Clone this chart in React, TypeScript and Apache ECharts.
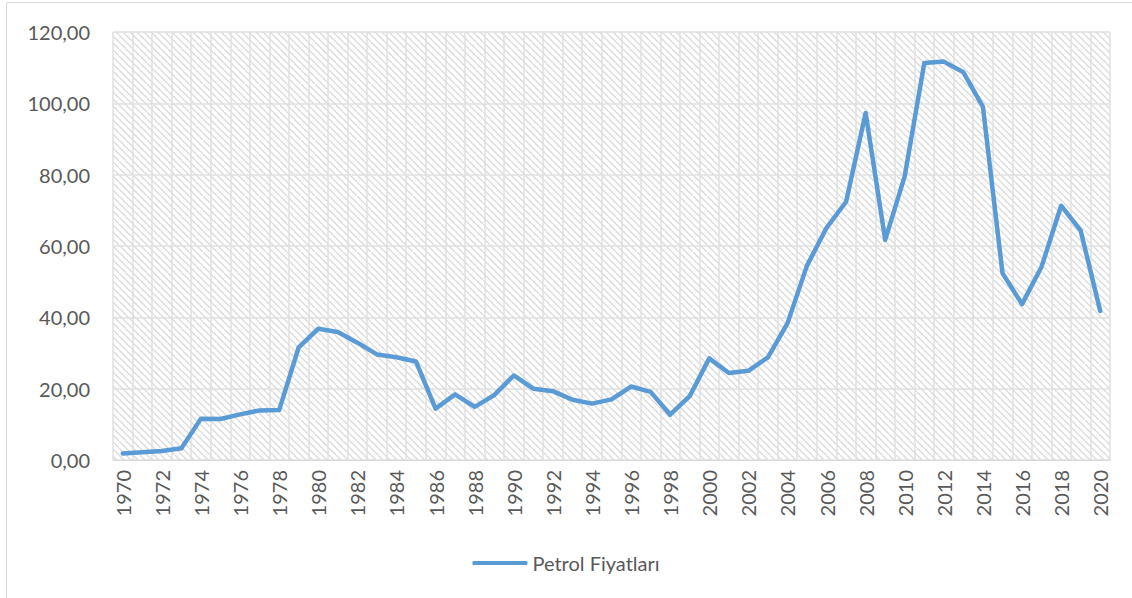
import React, { useEffect, useRef } from "react";
import * as echarts from "echarts";

const years: string[] = [
  "1970","1971","1972","1973","1974","1975","1976","1977","1978","1979",
  "1980","1981","1982","1983","1984","1985","1986","1987","1988","1989",
  "1990","1991","1992","1993","1994","1995","1996","1997","1998","1999",
  "2000","2001","2002","2003","2004","2005","2006","2007","2008","2009",
  "2010","2011","2012","2013","2014","2015","2016","2017","2018","2019","2020",
];

const petrolPrices: number[] = [
  1.8, 2.2, 2.5, 3.3, 11.6, 11.5, 12.8, 13.9, 14.0, 31.6,
  36.8, 35.9, 32.9, 29.6, 28.8, 27.6, 14.4, 18.4, 14.9, 18.2,
  23.7, 20.0, 19.3, 16.9, 15.8, 17.0, 20.6, 19.1, 12.7, 17.9,
  28.5, 24.4, 25.0, 28.8, 38.3, 54.5, 65.1, 72.4, 97.3, 61.7,
  79.6, 111.3, 111.7, 108.7, 99.0, 52.4, 43.7, 54.2, 71.3, 64.3, 41.8,
];

const seriesName = "Petrol Fiyatları";

function makePattern(): string {
  const c = document.createElement("canvas");
  const s = 7;
  c.width = s;
  c.height = s;
  const ctx = c.getContext("2d");
  if (!ctx) return "";
  ctx.fillStyle = "#ffffff";
  ctx.fillRect(0, 0, s, s);
  ctx.strokeStyle = "#dadada";
  ctx.lineWidth = 1.3;
  for (let k = -1; k <= 1; k++) {
    ctx.beginPath();
    ctx.moveTo(k * s, 0);
    ctx.lineTo(k * s + s, s);
    ctx.stroke();
  }
  return c.toDataURL();
}

export default function App() {
  const ref = useRef<HTMLDivElement>(null);

  useEffect(() => {
    document.body.style.margin = "0";
    if (!ref.current) return;
    const chart = echarts.init(ref.current, null, { renderer: "svg" });
    const font = "Lato, 'Open Sans', sans-serif";
    const pattern = makePattern();
    chart.setOption({
      animation: false,
      backgroundColor: "#ffffff",
      textStyle: { fontFamily: font },
      grid: {
        left: 113,
        right: 22,
        top: 32,
        bottom: 138,
        show: true,
        borderWidth: 0,
        backgroundColor: pattern ? { image: pattern, repeat: "repeat" } : "#f4f4f4",
      },
      graphic: [
        { type: "line", shape: { x1: 6.5, y1: 2.5, x2: 1132, y2: 2.5 }, style: { stroke: "#d9d9d9", lineWidth: 1 } },
        { type: "line", shape: { x1: 6.5, y1: 2.5, x2: 6.5, y2: 598 }, style: { stroke: "#d9d9d9", lineWidth: 1 } },
      ],
      legend: {
        bottom: 20,
        left: "center",
        icon: "roundRect",
        itemWidth: 55,
        itemHeight: 4,
        itemGap: 6,
        textStyle: { fontFamily: font, fontSize: 20, color: "#595959" },
        data: [seriesName],
      },
      xAxis: {
        type: "category",
        data: years,
        boundaryGap: true,
        axisLine: { show: true, lineStyle: { color: "#d9d9d9", width: 1 } },
        axisTick: { show: false },
        axisLabel: {
          interval: 1,
          rotate: 90,
          margin: 10,
          color: "#595959",
          fontSize: 20,
          fontFamily: font,
        },
        splitLine: { show: true, interval: 0, lineStyle: { color: "#e0e0e0", width: 1.5 } },
      },
      yAxis: {
        type: "value",
        min: 0,
        max: 120,
        interval: 20,
        axisLine: { show: false },
        axisTick: { show: false },
        axisLabel: {
          margin: 23,
          color: "#595959",
          fontSize: 20,
          fontFamily: font,
          formatter: (v: number) => v.toFixed(2).replace(".", ","),
        },
        splitLine: { show: true, lineStyle: { color: "#e0e0e0", width: 1.5 } },
      },
      series: [
        {
          name: seriesName,
          type: "line",
          data: petrolPrices,
          showSymbol: false,
          symbol: "none",
          lineStyle: { color: "#5b9bd5", width: 4.5, cap: "round", join: "round" },
          itemStyle: { color: "#5b9bd5" },
        },
      ],
    });
    return () => chart.dispose();
  }, []);

  return <div ref={ref} style={{ width: 1132, height: 598 }} />;
}
